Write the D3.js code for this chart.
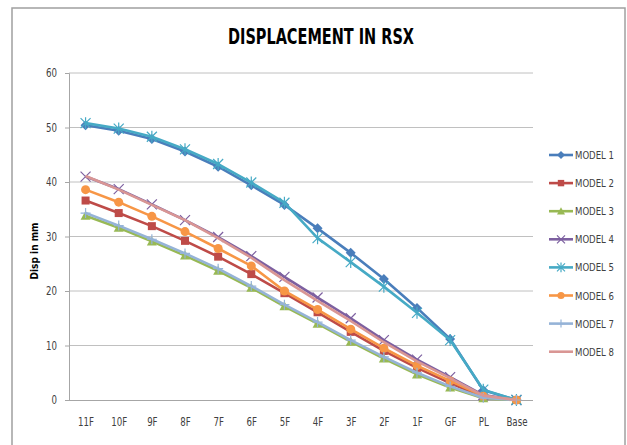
<!DOCTYPE html>
<html>
<head>
<meta charset="utf-8">
<script src="https://cdn.jsdelivr.net/npm/d3@7"></script>
<style>
  html, body { margin: 0; padding: 0; background: #fff; }
  svg { display: block; }
  text { font-family: "DejaVu Sans Condensed", "Liberation Sans Narrow", "Open Sans", sans-serif; }
</style>
</head>
<body>
<svg id="chart" width="627" height="445"></svg>
<script>
const categories = ["11F","10F","9F","8F","7F","6F","5F","4F","3F","2F","1F","GF","PL","Base"];
const yTicks = [0,10,20,30,40,50,60];
const seriesNames = ["MODEL 1","MODEL 2","MODEL 3","MODEL 4","MODEL 5","MODEL 6","MODEL 7","MODEL 8"];
const model1 = [50.4, 49.4, 47.9, 45.6, 42.8, 39.4, 35.8, 31.5, 27.0, 22.2, 16.9, 11.2, 1.8, 0];
const model2 = [36.6, 34.3, 31.9, 29.2, 26.3, 23.1, 19.6, 16.1, 12.5, 9.0, 5.9, 3.1, 0.5, 0];
const model3 = [33.8, 31.6, 29.1, 26.5, 23.7, 20.6, 17.2, 14.0, 10.7, 7.6, 4.7, 2.3, 0.3, 0];
const model4 = [41.0, 38.7, 35.9, 33.0, 29.9, 26.4, 22.6, 18.8, 15.0, 11.0, 7.4, 4.2, 0.9, 0];
const model5 = [50.8, 49.8, 48.3, 46.0, 43.3, 39.9, 36.2, 29.7, 25.3, 20.8, 16.0, 11.0, 1.9, 0];
const model6 = [38.6, 36.3, 33.7, 30.9, 27.8, 24.6, 20.0, 16.6, 13.0, 9.5, 6.3, 3.5, 0.7, 0];
const model7 = [34.3, 32.0, 29.5, 26.9, 24.1, 20.9, 17.5, 14.3, 11.0, 7.9, 5.0, 2.5, 0.4, 0];
const model8 = [41.1, 38.6, 35.8, 33.0, 29.7, 26.1, 22.0, 18.2, 14.5, 10.6, 7.1, 4.0, 0.8, 0];
const seriesValues = [model1, model2, model3, model4, model5, model6, model7, model8];
const colors = ["#4A7EBB","#BE4B48","#98B954","#7D60A0","#46AAC5","#F79646","#95B3D7","#D99694"];
const markers = ["diamond","square","triangle","x","star","circle","plus","none"];

const svg = d3.select("#chart");
const narrow = 0.8;
// outer border
svg.append("rect").attr("x", 12).attr("y", 8).attr("width", 613).attr("height", 450)
  .attr("fill", "#fff").attr("stroke", "#a0a0a0").attr("stroke-width", 1.5);

const pLeft = 69, pRight = 533, pTop = 73, pBottom = 400;
const x = d3.scalePoint().domain(categories).range([pLeft, pRight]).padding(0.5);
const y = d3.scaleLinear().domain([0, 60]).range([pBottom, pTop]);

// title
svg.append("text").attr("x", 321).attr("y", 44).attr("text-anchor", "middle")
  .attr("font-size", 21).attr("font-weight", "bold").attr("fill", "#000")
  .attr("textLength", 186).attr("lengthAdjust", "spacingAndGlyphs")
  .text("DISPLACEMENT IN RSX");

// gridlines
svg.append("g").selectAll("line").data(yTicks.filter(d => d > 0)).join("line")
  .attr("x1", pLeft).attr("x2", pRight).attr("y1", d => y(d)).attr("y2", d => y(d))
  .attr("stroke", "#c0c0c0").attr("stroke-width", 1);

// y axis
const yAxis = d3.axisLeft(y).tickValues(yTicks).tickSize(4).tickPadding(8);
const gy = svg.append("g").attr("transform", `translate(${pLeft},0)`).call(yAxis);
gy.select(".domain").attr("stroke", "#a6a6a6");
gy.selectAll(".tick line").attr("stroke", "#a6a6a6");
gy.selectAll(".tick text").attr("font-size", 12).attr("fill", "#404040")
  .attr("x", -12 / narrow).attr("transform", `scale(${narrow},1)`)
  .style("font-family", '"DejaVu Sans Condensed", sans-serif');

// x axis
const xAxis = d3.axisBottom(x).tickSize(0).tickPadding(17);
const gx = svg.append("g").attr("transform", `translate(0,${pBottom})`).call(xAxis);
gx.select(".domain").attr("stroke", "#a6a6a6").attr("d", `M${pLeft},0.5H${pRight}`);
gx.selectAll(".tick text").attr("font-size", 12).attr("fill", "#404040")
  .attr("transform", `scale(${narrow},1)`)
  .style("font-family", '"DejaVu Sans Condensed", sans-serif');

// y label
svg.append("text").attr("transform", "translate(38,251) rotate(-90)")
  .attr("text-anchor", "middle").attr("font-size", 11).attr("font-weight", "bold")
  .attr("textLength", 57).attr("lengthAdjust", "spacingAndGlyphs")
  .text("Disp in mm");

function drawMarker(g, type, color, size) {
  const s = size;
  switch (type) {
    case "diamond":
      g.append("path").attr("d", `M0,${-s}L${s},0L0,${s}L${-s},0Z`).attr("fill", color); break;
    case "square":
      g.append("rect").attr("x", -s*0.8).attr("y", -s*0.8).attr("width", s*1.6).attr("height", s*1.6).attr("fill", color); break;
    case "triangle":
      g.append("path").attr("d", `M0,${-s}L${s},${s*0.8}L${-s},${s*0.8}Z`).attr("fill", color); break;
    case "x":
      g.append("path").attr("d", `M${-s},${-s}L${s},${s}M${-s},${s}L${s},${-s}`).attr("stroke", color).attr("stroke-width", 1.2).attr("fill", "none"); break;
    case "star":
      g.append("path").attr("d", `M${-s},${-s}L${s},${s}M${-s},${s}L${s},${-s}M0,${-s*1.2}L0,${s*1.2}`).attr("stroke", color).attr("stroke-width", 1.2).attr("fill", "none"); break;
    case "circle":
      g.append("circle").attr("r", s*0.9).attr("fill", color); break;
    case "plus":
      g.append("path").attr("d", `M${-s},0L${s},0M0,${-s}L0,${s}`).attr("stroke", color).attr("stroke-width", 1.2).attr("fill", "none"); break;
  }
}

const line = d3.line().x((d, i) => x(categories[i])).y(d => y(d));
const plot = svg.append("g");
seriesValues.forEach((vals, si) => {
  const g = plot.append("g");
  g.append("path").datum(vals).attr("d", line).attr("fill", "none")
    .attr("stroke", colors[si]).attr("stroke-width", 2.6).attr("stroke-linejoin", "round");
  vals.forEach((v, i) => {
    const mg = g.append("g").attr("transform", `translate(${x(categories[i])},${y(v)})`);
    drawMarker(mg, markers[si], colors[si], 5);
  });
});

// legend
const legend = svg.append("g");
seriesNames.forEach((name, i) => {
  const ly = 155 + i * 28.1;
  const lg = legend.append("g").attr("transform", `translate(0,${ly})`);
  lg.append("line").attr("x1", 549).attr("x2", 573).attr("y1", 0).attr("y2", 0)
    .attr("stroke", colors[i]).attr("stroke-width", 2.6);
  const mg = lg.append("g").attr("transform", "translate(561,0)");
  drawMarker(mg, markers[i], colors[i], 4);
  lg.append("text").attr("x", 575).attr("y", 4).attr("font-size", 11).attr("fill", "#404040")
    .attr("textLength", 39).attr("lengthAdjust", "spacingAndGlyphs").text(name);
});
</script>
</body>
</html>
